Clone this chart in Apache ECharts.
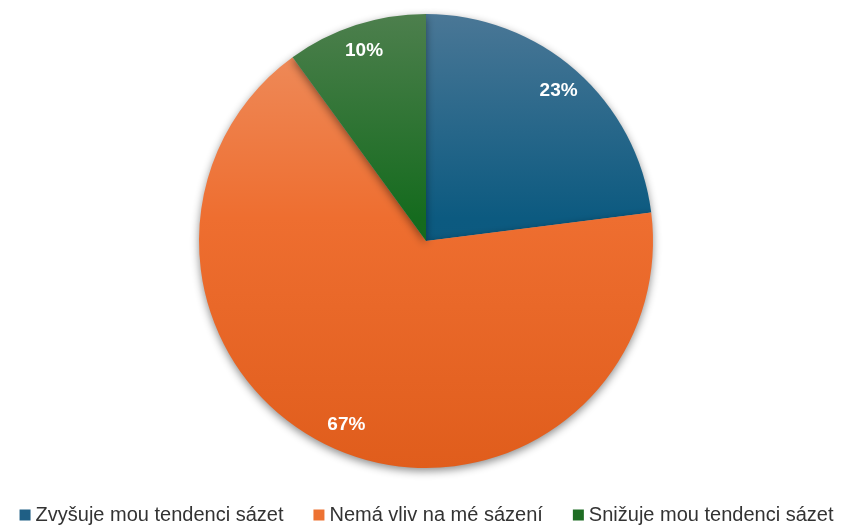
<!DOCTYPE html>
<html>
<head>
<meta charset="utf-8">
<script src="https://cdn.jsdelivr.net/npm/echarts@6/dist/echarts.min.js"></script>
<style>
  html, body { margin: 0; padding: 0; background: #ffffff; }
  #chart { width: 853px; height: 529px; }
</style>
</head>
<body>
<div id="chart"></div>
<script>
const categories = ['Zvyšuje mou tendenci sázet', 'Nemá vliv na mé sázení', 'Snižuje mou tendenci sázet'];
const values = [23, 67, 10];

// vertical gradients (top lighter, bottom base colour), global over the pie box
const CX = 426, CY = 241, R = 227;
function grad(top, mid, bottom) {
  return new echarts.graphic.LinearGradient(0, CY - R, 0, CY + R, [
    { offset: 0, color: top },
    { offset: 0.45, color: mid },
    { offset: 1, color: bottom }
  ], true);
}
const colors = [
  grad('#4a7796', '#0c5a80', '#0a5478'),
  grad('#ee9062', '#ee6e30', '#e05d1c'),
  grad('#4d7f4d', '#156b1e', '#126219')
];
const legendColors = ['#1f5f85', '#ed7232', '#1f6d24'];

const chart = echarts.init(document.getElementById('chart'));

const pieData = categories.map((name, i) => ({
  name,
  value: values[i],
  itemStyle: { color: colors[i] }
}));

const option = {
  backgroundColor: '#ffffff',
  animation: false,
  legend: {
    data: categories.map((name, i) => ({ name, itemStyle: { color: legendColors[i] } })),
    bottom: -1,
    left: 'center',
    icon: 'rect',
    itemWidth: 11,
    itemHeight: 11,
    itemGap: 30,
    textStyle: {
      color: '#333333',
      fontSize: 20,
      fontFamily: 'Liberation Sans, Arial, sans-serif'
    }
  },
  series: [
    {
      type: 'pie',
      center: [CX, CY],
      radius: R,
      startAngle: 90,
      clockwise: true,
      data: pieData,
      label: { show: false },
      labelLine: { show: false },
      emphasis: { disabled: true },
      itemStyle: {
        shadowBlur: 8,
        shadowOffsetY: 3,
        shadowColor: 'rgba(0, 0, 0, 0.45)'
      }
    },
    {
      // transparent ring used only to place the labels near the rim
      type: 'pie',
      center: [CX, CY],
      radius: [R * 0.74, R],
      startAngle: 90,
      clockwise: true,
      silent: true,
      legendHoverLink: false,
      data: categories.map((name, i) => ({ name: name + ' ', value: values[i] })),
      itemStyle: { color: 'rgba(0,0,0,0)' },
      label: {
        show: true,
        position: 'inside',
        formatter: '{c}%',
        color: '#ffffff',
        fontSize: 19,
        fontWeight: 'bold',
        fontFamily: 'Liberation Sans, Arial, sans-serif'
      },
      labelLine: { show: false },
      emphasis: { disabled: true }
    }
  ]
};

chart.setOption(option);
</script>
</body>
</html>
